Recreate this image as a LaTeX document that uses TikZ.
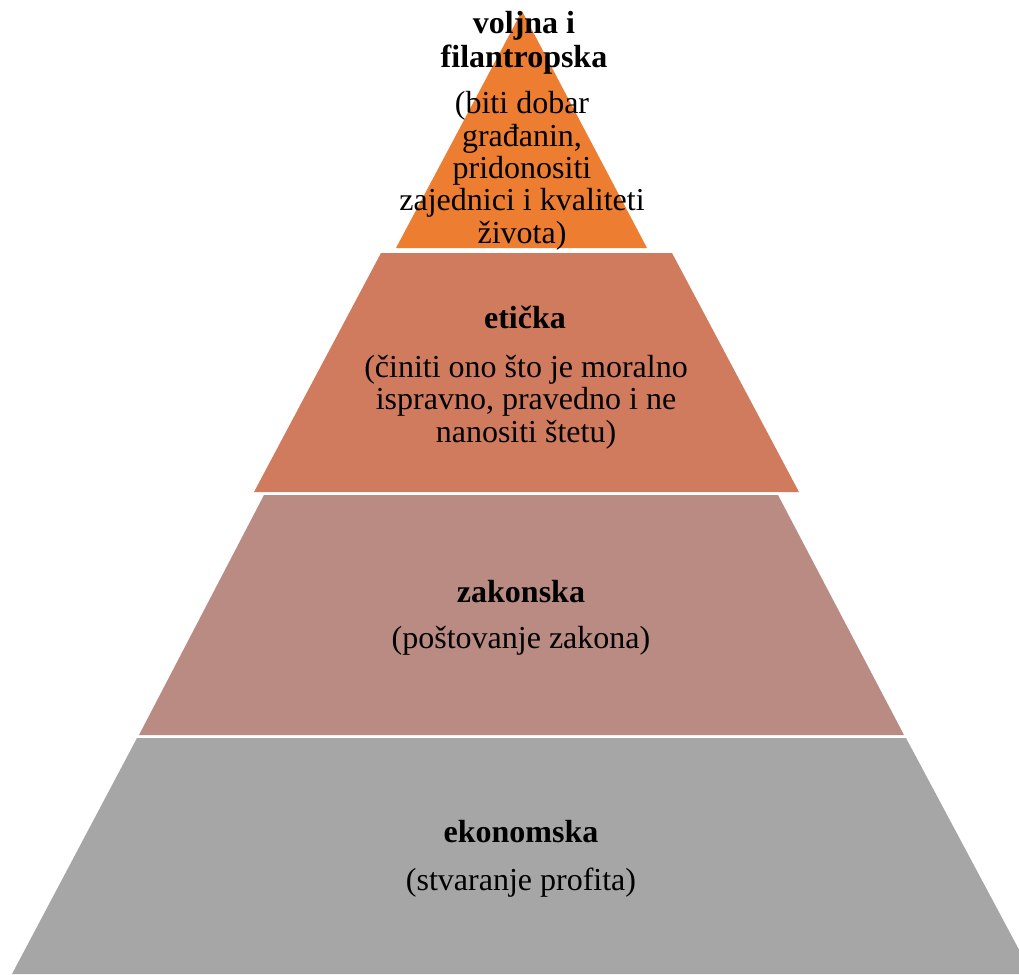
\documentclass[tikz,border=0pt]{standalone}
\usepackage{fontspec}
\setmainfont{Liberation Serif}
\usetikzlibrary{positioning}

\definecolor{voljnacol}{RGB}{237,125,49}
\definecolor{etickacol}{RGB}{209,123,94}
\definecolor{zakonskacol}{RGB}{185,139,130}
\definecolor{ekonomskacol}{RGB}{166,166,166}

\begin{document}
\begin{tikzpicture}[x=1pt, y=-1pt,
    title/.style={font=\fontsize{32}{34}\selectfont\bfseries, align=center, anchor=base, inner sep=0pt},
    body/.style={font=\fontsize{32}{32.3}\selectfont, align=center, anchor=base, inner sep=0pt}]
\clip (0,0) rectangle (1019,974);

% pyramid levels
\fill [voljnacol] (522,11) -- (647,248) -- (396,248) -- cycle;
\fill [etickacol] (381,253) -- (672,253) -- (799,492) -- (254,492) -- cycle;
\fill [zakonskacol] (264,495) -- (778,495) -- (904,735) -- (139,735) -- cycle;
\fill [ekonomskacol] (137,738) -- (906,738) -- (1032,974) -- (12,974) -- cycle;

% texts (base = last line)
\node [title] (voljna) at (524,67) {voljna i\\filantropska};
\node [body] (voljnatxt) at (522,243) {(biti dobar\\građanin,\\pridonositi\\zajednici i kvaliteti\\života)};

\node [title] (eticka) at (525,328) {etička};
\node [body] (etickatxt) at (526,442) {(činiti ono što je moralno\\ispravno, pravedno i ne\\nanositi štetu)};

\node [title] (zakonska) at (521,602) {zakonska};
\node [body] (zakonskatxt) at (521,648) {(poštovanje zakona)};

\node [title] (ekonomska) at (521,842) {ekonomska};
\node [body] (ekonomskatxt) at (521,890) {(stvaranje profita)};

\end{tikzpicture}
\end{document}
